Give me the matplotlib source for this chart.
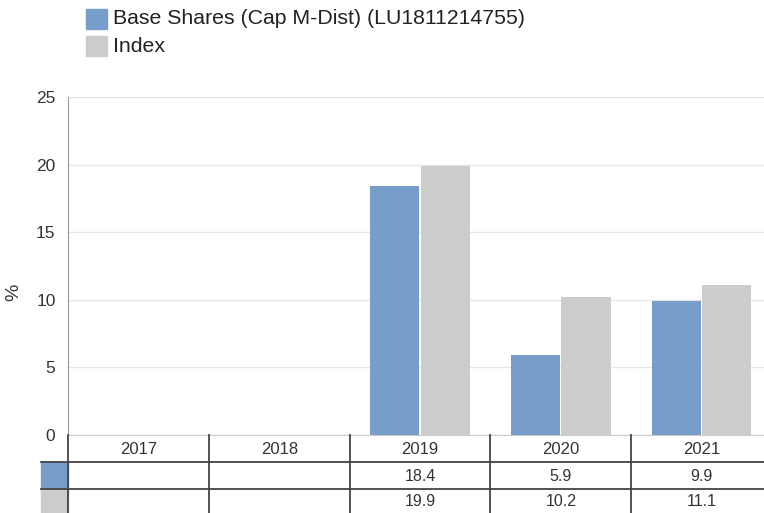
import matplotlib
matplotlib.use("Agg")
import matplotlib.pyplot as plt
from matplotlib.patches import Rectangle
import numpy as np

plt.rcParams['font.family'] = ['Liberation Sans', 'DejaVu Sans']

years = ["2017", "2018", "2019", "2020", "2021"]
fund = [None, None, 18.4, 5.9, 9.9]
index = [None, None, 19.9, 10.2, 11.1]
fund_name = "Base Shares (Cap M-Dist) (LU1811214755)"
index_name = "Index"
yticks = [0, 5, 10, 15, 20, 25]

blue = "#779ecb"
grey = "#cccccc"
txt = "#333333"
line = "#444444"

W, H = 764, 513
fig = plt.figure(figsize=(W / 100, H / 100), dpi=100)

# plot area in pixels
x0, x1 = 68, 772
ytop, ybot = 97, 435
ax = fig.add_axes([x0 / W, (H - ybot) / H, (x1 - x0) / W, (ybot - ytop) / H])

x = np.arange(len(years))
bw = 0.35
fv = [np.nan if v is None else v for v in fund]
iv = [np.nan if v is None else v for v in index]
ax.bar(x - bw / 2 - 0.004, fv, bw, color=blue, zorder=3)
ax.bar(x + bw / 2 + 0.004, iv, bw, color=grey, zorder=3)

ax.set_xlim(-0.5, len(years) - 0.5)
ax.set_ylim(0, 25)
ax.set_yticks(yticks)
ax.set_xticks([])
ax.grid(axis="y", color="#e6e6e6", lw=1, zorder=0)
for s in ["top", "right"]:
    ax.spines[s].set_visible(False)
ax.spines["left"].set_color("#999999")
ax.spines["bottom"].set_color("#cccccc")
ax.tick_params(axis="y", length=0, pad=9, labelsize=12.5, labelcolor=txt)
fig.text(14 / W, 1 - 292 / H, "%", rotation=90, fontsize=14, color=txt,
         ha="center", va="center")

# table below the chart
row_h = 27
tax = fig.add_axes([x0 / W, (H - ybot - 3 * row_h) / H, (x1 - x0) / W, 3 * row_h / H])
tax.set_xlim(-0.5, len(years) - 0.5)
tax.set_ylim(3, 0)
tax.axis("off")
sw = 27 / ((x1 - x0) / len(years))  # swatch width in data units

for r in [1, 2]:
    tax.plot([-0.5 - sw, len(years) - 0.5], [r, r], color=line, lw=1.3, clip_on=False)
for c in range(len(years) + 1):
    tax.plot([c - 0.5, c - 0.5], [0, 3], color=line, lw=1.3, clip_on=False)

tax.add_patch(Rectangle((-0.5 - sw, 1), sw, 1, color=blue, clip_on=False, zorder=0))
tax.add_patch(Rectangle((-0.5 - sw, 2), sw, 1, color=grey, clip_on=False, zorder=0))

for i, yr in enumerate(years):
    tax.text(i, 0.52, yr, ha="center", va="center", fontsize=12, color=txt)
    if fund[i] is not None:
        tax.text(i, 1.52, f"{fund[i]:.1f}", ha="center", va="center", fontsize=11.5, color=txt)
    if index[i] is not None:
        tax.text(i, 2.45, f"{index[i]:.1f}", ha="center", va="center", fontsize=11.5, color=txt)

# legend
for k, (lab, col) in enumerate([(fund_name, blue), (index_name, grey)]):
    yy = 9 + k * 27
    fig.patches.append(Rectangle((86 / W, 1 - (yy + 20) / H), 21 / W, 20 / H,
                                 color=col, transform=fig.transFigure))
    fig.text(113 / W, 1 - (yy + 10) / H, lab, fontsize=15.3, color="#222222", va="center")

fig.savefig("out.png", dpi=100)
